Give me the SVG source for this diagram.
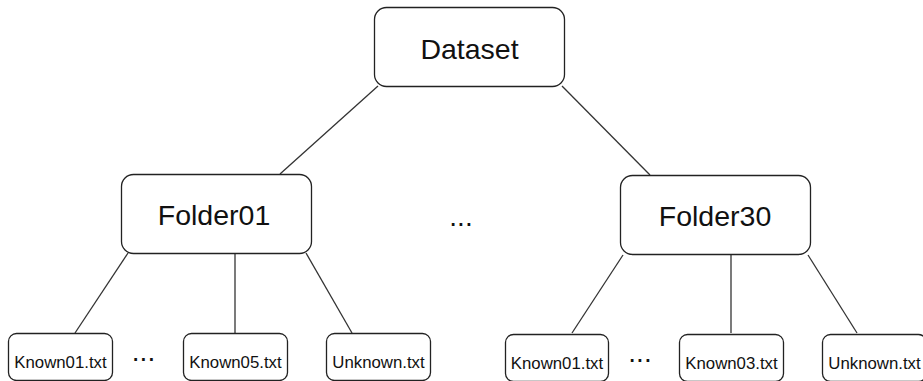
<svg xmlns="http://www.w3.org/2000/svg" width="923" height="381" viewBox="0 0 923 381">
  <style>
    .box { fill: #ffffff; stroke: #222222; stroke-width: 1.3; }
    .edge { fill: none; stroke: #333333; stroke-width: 1.3; }
    .big { font-family: "Liberation Sans", Arial, sans-serif; font-size: 28.5px; fill: #111111; text-anchor: middle; }
    .small { font-family: "Liberation Sans", Arial, sans-serif; font-size: 16.8px; fill: #111111; text-anchor: middle; }
    .dots { font-family: "Liberation Sans", Arial, sans-serif; font-size: 28px; fill: #111111; text-anchor: middle; }
  </style>

  <rect width="923" height="381" fill="#ffffff"/>

  <!-- connectors -->
  <g id="connectors">
    <line class="edge" x1="378" y1="86" x2="280" y2="174"/>
    <line class="edge" x1="562" y1="86" x2="650" y2="175"/>
    <line class="edge" x1="128" y1="253" x2="75" y2="333"/>
    <line class="edge" x1="235" y1="253" x2="235" y2="333"/>
    <line class="edge" x1="306" y1="253" x2="352" y2="333"/>
    <line class="edge" x1="623" y1="255" x2="572" y2="333"/>
    <line class="edge" x1="731" y1="255" x2="731" y2="333"/>
    <line class="edge" x1="808" y1="255" x2="857" y2="333"/>
  </g>

  <!-- root -->
  <g id="dataset">
    <rect class="box" x="374.5" y="7.5" width="190" height="79" rx="12"/>
    <text class="big" x="469.5" y="59">Dataset</text>
  </g>

  <!-- folders -->
  <g id="folder01">
    <rect class="box" x="121.5" y="174.5" width="190" height="79" rx="12"/>
    <text class="big" x="214" y="225">Folder01</text>
  </g>
  <g id="folder30">
    <rect class="box" x="620.5" y="175.5" width="190" height="79" rx="12"/>
    <text class="big" x="715" y="226">Folder30</text>
  </g>

  <g id="gap-folders">
    <text class="dots" x="461" y="226">...</text>
  </g>

  <!-- files of Folder01 -->
  <g id="f01-known01">
    <rect class="box" x="8.5" y="333.5" width="104" height="47" rx="8"/>
    <text class="small" x="60.5" y="368">Known01.txt</text>
  </g>
  <g id="f01-gap">
    <text class="dots" x="143.5" y="361">...</text>
  </g>
  <g id="f01-known05">
    <rect class="box" x="183.5" y="333.5" width="104" height="47" rx="8"/>
    <text class="small" x="235.5" y="368">Known05.txt</text>
  </g>
  <g id="f01-unknown">
    <rect class="box" x="326.5" y="333.5" width="104" height="47" rx="8"/>
    <text class="small" x="378.5" y="368">Unknown.txt</text>
  </g>

  <!-- files of Folder30 -->
  <g id="f30-known01">
    <rect class="box" x="505.5" y="334.5" width="103" height="47" rx="8"/>
    <text class="small" x="557" y="369">Known01.txt</text>
  </g>
  <g id="f30-gap">
    <text class="dots" x="640" y="362">...</text>
  </g>
  <g id="f30-known03">
    <rect class="box" x="679.5" y="334.5" width="104" height="47" rx="8"/>
    <text class="small" x="731.5" y="369">Known03.txt</text>
  </g>
  <g id="f30-unknown">
    <rect class="box" x="822.5" y="334.5" width="104" height="47" rx="8"/>
    <text class="small" x="874.5" y="369">Unknown.txt</text>
  </g>
</svg>
